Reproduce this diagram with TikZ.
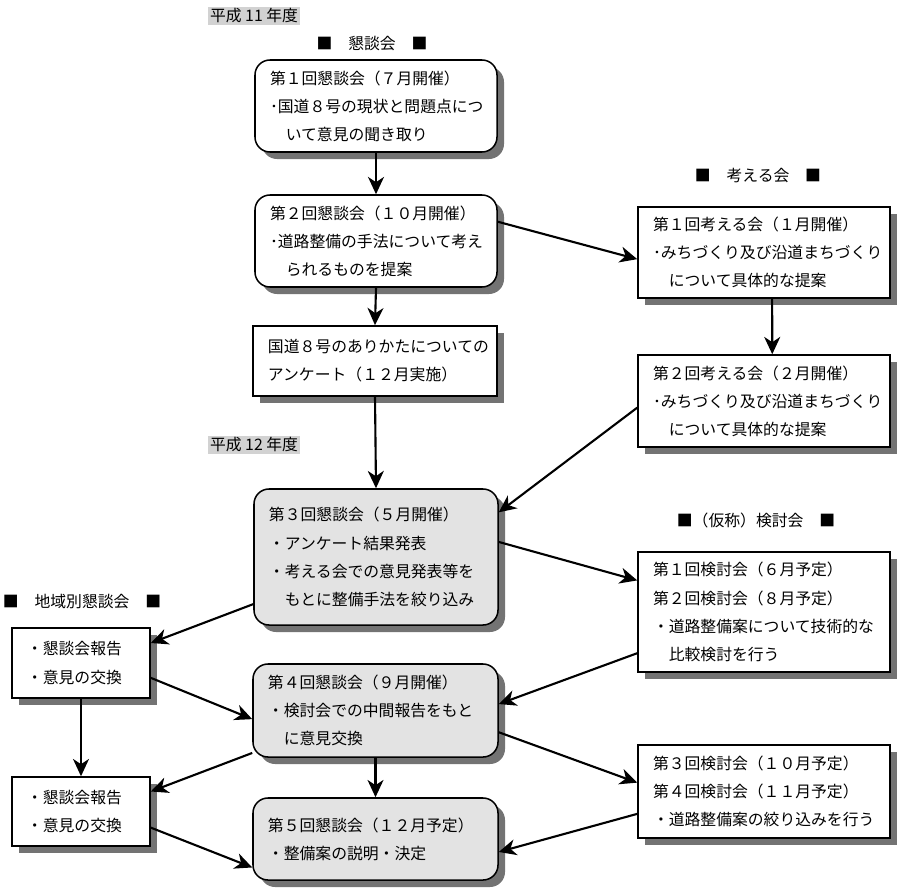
\documentclass[tikz,border=0pt]{standalone}
\usepackage{fontspec}
\setmainfont{Noto Sans CJK JP}
\usetikzlibrary{arrows.meta}

\begin{document}
\begin{tikzpicture}[x=0.03cm,y=-0.03cm,
  txt/.style={font=\fontsize{13.5}{24}\selectfont},
  tag/.style={txt, fill=gray!35, inner sep=1.5pt},
  meetbox/.style={txt, draw, line width=1.3pt, rounded corners=0.45cm, align=left,
    inner xsep=0.45cm, inner ysep=0pt, fill=white},
  graybox/.style={meetbox, fill=gray!22},
  plainbox/.style={meetbox, sharp corners},
  shade box/.style={fill=black!55},
  conn/.style={-{Stealth[length=0.52cm,width=0.48cm,inset=0.16cm]}, line width=1.8pt}
]
\useasboundingbox (0,0) rectangle (900,892);

% shadows (drawn first, under the boxes)
\fill[shade box, rounded corners=0.45cm] (262,67) rectangle (504,159);
\fill[shade box, rounded corners=0.45cm] (262,202) rectangle (504,294);
\fill[shade box] (260,333) rectangle (504,403);
\fill[shade box, rounded corners=0.45cm] (261,496) rectangle (505,632);
\fill[shade box, rounded corners=0.45cm] (260,671) rectangle (505,764);
\fill[shade box, rounded corners=0.45cm] (260,805) rectangle (505,887);
\fill[shade box] (645,214) rectangle (897,305);
\fill[shade box] (645,362) rectangle (897,454);
\fill[shade box] (645,559) rectangle (897,679);
\fill[shade box] (645,752) rectangle (897,845);
\fill[shade box] (19,635) rectangle (157,705);
\fill[shade box] (19,784) rectangle (157,853);

% headings
\node[tag] (y11) at (254,16) {平成 11 年度};
\node[tag] (y12) at (254,445) {平成 12 年度};
\node[txt] (hkon) at (372,44) {■　懇談会　■};
\node[txt] (hkan) at (758,176) {■　考える会　■};
\node[txt] (hken) at (756,520) {■（仮称）検討会　■};
\node[txt] (hchi) at (82,602) {■　地域別懇談会　■};

% 懇談会
\node[meetbox, text width=6.36cm, minimum height=2.76cm] (b1) at (376,106)
  {第１回懇談会（７月開催）\\･国道８号の現状と問題点につ\\\hspace*{1em}いて意見の聞き取り};
\node[meetbox, text width=6.36cm, minimum height=2.76cm] (b2) at (376,241)
  {第２回懇談会（１０月開催）\\･道路整備の手法について考え\\\hspace*{1em}られるものを提案};
\node[plainbox, text width=6.42cm, minimum height=2.1cm] (anq) at (375,361)
  {国道８号のありかたについての\\アンケート（１２月実施）};
\node[graybox, text width=6.42cm, minimum height=4.08cm] (b3) at (376,557)
  {第３回懇談会（５月開催）\\・アンケート結果発表\\・考える会での意見発表等を\\\hspace*{1em}もとに整備手法を絞り込み};
\node[graybox, text width=6.45cm, minimum height=2.79cm] (b4) at (375.5,710.5)
  {第４回懇談会（９月開催）\\・検討会での中間報告をもと\\\hspace*{1em}に意見交換};
\node[graybox, text width=6.45cm, minimum height=2.46cm] (b5) at (375.5,839)
  {第５回懇談会（１２月予定）\\・整備案の説明・決定};

% 考える会
\node[plainbox, text width=6.66cm, minimum height=2.73cm] (k1) at (764,252.5)
  {第１回考える会（１月開催）\\･みちづくり及び沿道まちづくり\\\hspace*{1em}について具体的な提案};
\node[plainbox, text width=6.66cm, minimum height=2.76cm] (k2) at (764,401)
  {第２回考える会（２月開催）\\･みちづくり及び沿道まちづくり\\\hspace*{1em}について具体的な提案};

% 検討会
\node[plainbox, text width=6.66cm, minimum height=3.6cm] (ke1) at (764,612)
  {第１回検討会（６月予定）\\第２回検討会（８月予定）\\・道路整備案について技術的な\\\hspace*{1em}比較検討を行う};
\node[plainbox, text width=6.66cm, minimum height=2.79cm] (ke2) at (764,791.5)
  {第３回検討会（１０月予定）\\第４回検討会（１１月予定）\\・道路整備案の絞り込みを行う};

% 地域別懇談会
\node[plainbox, text width=3.24cm, minimum height=2.1cm] (c1) at (81,663)
  {・懇談会報告\\・意見の交換};
\node[plainbox, text width=3.24cm, minimum height=2.07cm] (c2) at (81,811.5)
  {・懇談会報告\\・意見の交換};

% arrows
\draw[conn] (b1.south) -- (b2.north);
\draw[conn] (b2.south) -- (anq.north);
\draw[conn] (anq.south) -- (b3.north);
\draw[conn] (b4.south) -- (b5.north);
\draw[conn] (b2.9) -- (k1.183);
\draw[conn] (k1.-80) -- (k2.80);
\draw[conn] (k2.183) -- (b3.20);
\draw[conn] (b3.7) -- (ke1.166);
\draw[conn] (ke1.198) -- (b4.3);
\draw[conn] (b4.-10) -- (ke2.176);
\draw[conn] (ke2.190) -- (b5.-6);
\draw[conn] (b3.201) -- (c1.16);
\draw[conn] (c1.-12) -- (b4.184);
\draw[conn] (b4.199) -- (c2.16);
\draw[conn] (c2.-13) -- (b5.193);
\draw[conn] (c1.south) -- (c2.north);
\end{tikzpicture}
\end{document}
